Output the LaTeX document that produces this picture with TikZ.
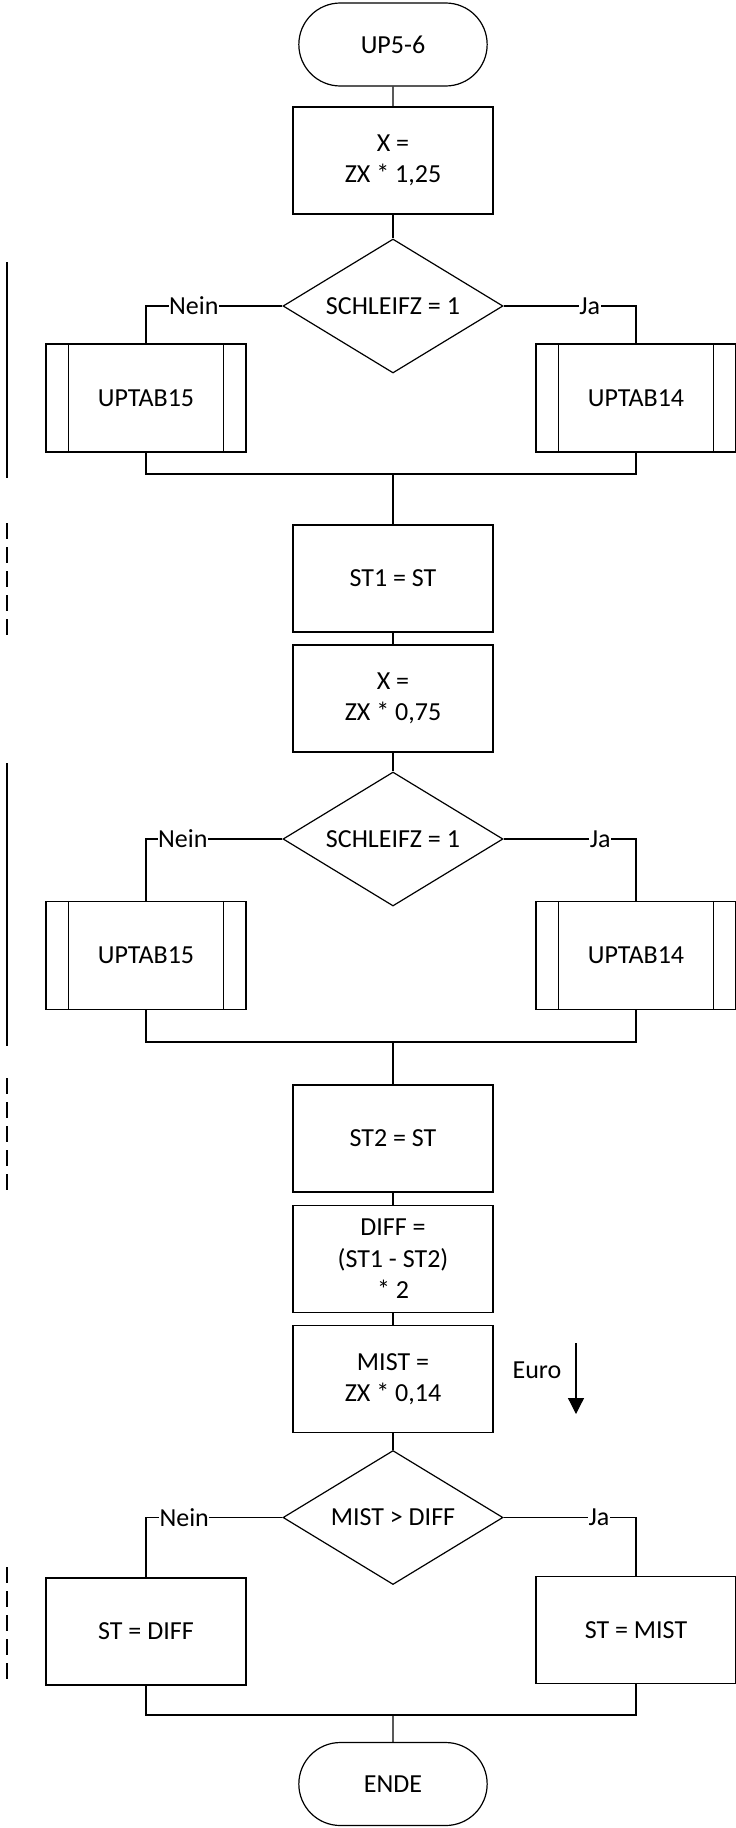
\documentclass[tikz,border=0pt]{standalone}
\usepackage{fontspec}
\setmainfont{Carlito}
\usetikzlibrary{positioning,arrows.meta,shapes.geometric,shapes.misc}

\begin{document}
\begin{tikzpicture}[x=1pt, y=-1pt,
  font=\fontsize{26}{31.5}\selectfont,
  every node/.style={line width=1.2pt, align=center},
  term/.style={draw, rounded rectangle, minimum width=195pt, minimum height=83pt},
  proc/.style={draw, rectangle, minimum width=200pt, minimum height=107pt, inner sep=0pt},
  subproc/.style={proc, minimum height=108pt},
  decide/.style={draw, diamond, aspect=1.64, inner sep=0pt,
                 minimum width=220pt, minimum height=134pt},
  lbl/.style={fill=white, inner sep=0.5pt},
  line/.style={draw, line width=1.2pt},
  arr/.style={-{Triangle[length=16pt,width=16pt]}, line width=1.2pt},
  sideline/.style={line width=2pt},
  sidedash/.style={line width=2pt, dash pattern=on 15.5pt off 8.5pt},
]
\useasboundingbox (0,0) rectangle (736,1828);

\node[term] (start) at (393, 44.5) {UP5-6};
\node[proc] (xa) at (393, 160.5) {X =\\ ZX * 1,25};
\node[decide] (da) at (393, 306) {SCHLEIFZ = 1};
\node[subproc] (sa) at (146, 398) {UPTAB15};
\node[subproc] (sb) at (636, 398) {UPTAB14};
\coordinate (ja) at (393, 474);
\node[proc] (st1) at (393, 578.5) {ST1 = ST};
\node[proc] (xb) at (393, 698.5) {X =\\ ZX * 0,75};
\node[decide] (db) at (393, 839) {SCHLEIFZ = 1};
\node[subproc] (sc) at (146, 955.5) {UPTAB15};
\node[subproc] (sd) at (636, 955.5) {UPTAB14};
\coordinate (jb) at (393, 1042);
\node[proc] (st2) at (393, 1138.5) {ST2 = ST};
\node[proc] (diff) at (393, 1259) {DIFF =\\ (ST1 - ST2)\\ * 2};
\node[proc] (mist) at (393, 1379) {MIST =\\ ZX * 0,14};
\node[decide] (dc) at (393, 1517.5) {MIST > DIFF};
\node[proc] (stdiff) at (146, 1631.5) {ST = DIFF};
\node[proc] (stmist) at (636, 1630) {ST = MIST};
\coordinate (jc) at (393, 1715);
\node[term] (ende) at (393, 1784) {ENDE};

\node (euro) at (537, 1370.5) {Euro};
\coordinate (eua) at (576, 1343);
\coordinate (eub) at (576, 1414);

\foreach \n in {sa,sb,sc,sd} {
  \draw[line] ([xshift=23pt]\n.north west) -- ([xshift=23pt]\n.south west);
  \draw[line] ([xshift=-23pt]\n.north east) -- ([xshift=-23pt]\n.south east);
}

\draw[line] (start) -- (xa);
\draw[line] (xa) -- (da);
\draw[line] (da.west) -- node[lbl, pos=0.65] {Nein} (da.west -| sa.north) -- (sa.north);
\draw[line] (da.east) -- node[lbl, pos=0.65] {Ja} (da.east -| sb.north) -- (sb.north);
\draw[line] (sa.south) |- (ja) -| (sb.south);
\draw[line] (ja) -- (st1);
\draw[line] (st1) -- (xb);
\draw[line] (xb) -- (db);
\draw[line] (db.west) -- node[lbl, pos=0.73] {Nein} (db.west -| sc.north) -- (sc.north);
\draw[line] (db.east) -- node[lbl, pos=0.73] {Ja} (db.east -| sd.north) -- (sd.north);
\draw[line] (sc.south) |- (jb) -| (sd.south);
\draw[line] (jb) -- (st2);
\draw[line] (st2) -- (diff);
\draw[line] (diff) -- (mist);
\draw[line] (mist) -- (dc);
\draw[line] (dc.west) -- node[lbl, pos=0.72] {Nein} (dc.west -| stdiff.north) -- (stdiff.north);
\draw[line] (dc.east) -- node[lbl, pos=0.72] {Ja} (dc.east -| stmist.north) -- (stmist.north);
\draw[line] (stdiff.south) |- (jc) -| (stmist.south);
\draw[line] (jc) -- (ende);
\draw[arr] (eua) -- (eub);

\draw[sideline] (6.5, 262) -- (6.5, 478);
\draw[sidedash] (6.5, 523) -- (6.5, 636);
\draw[sideline] (6.5, 763) -- (6.5, 1046);
\draw[sidedash] (6.5, 1078) -- (6.5, 1196);
\draw[sidedash] (6.5, 1567) -- (6.5, 1680);
\end{tikzpicture}
\end{document}
